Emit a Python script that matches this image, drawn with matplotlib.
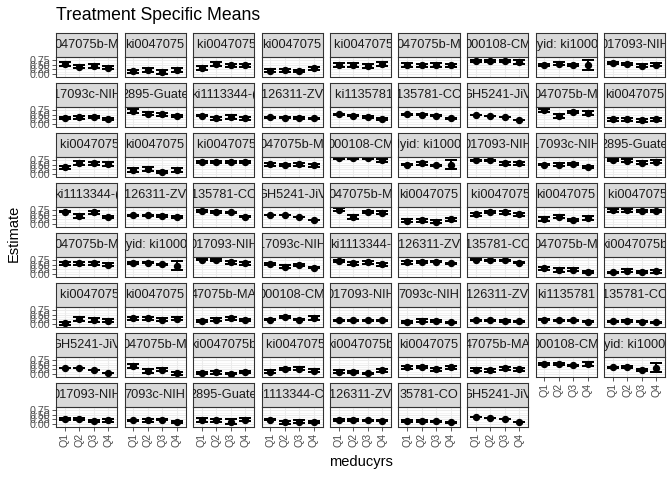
import numpy as np
import matplotlib
matplotlib.use('Agg')
import matplotlib.pyplot as plt

plt.rcParams['font.family'] = ['Liberation Sans', 'DejaVu Sans']

quarters = ['Q1', 'Q2', 'Q3', 'Q4']

# strip labels (as they show, clipped by the strip box)
labels = [
    "047075b-M", "ki0047075", ": ki0047075", "ki0047075", ": ki0047075", "047075b-M", "000108-CM", "lyid: ki1000", "017093-NIH",
    "17093c-NIH", "2895-Guate", "ki1113344-(", "126311-ZV", ": ki1135781", "135781-CO", "GH5241-JiV", "047075b-M", "ki0047075",
    ": ki0047075", "ki0047075", ": ki0047075", "047075b-M", "000108-CM", "lyid: ki1000", "017093-NIH", "17093c-NIH", "2895-Guate",
    "ki1113344-(", "126311-ZV", "135781-CO", "GH5241-JiV", "047075b-M", "ki0047075", ": ki0047075", "ki0047075", ": ki0047075",
    "047075b-M", "lyid: ki1000", "017093-NIH", "17093c-NIH", "ki1113344-", "126311-ZV", "135781-CO", "047075b-M", "ki0047075b",
    ": ki0047075", "ki0047075", "47075b-MA", "000108-CM", "017093-NIH", "7093c-NIH", "126311-ZV", "ki1135781", "135781-CO",
    "GH5241-JiV", "047075b-M", "ki0047075b", ": ki0047075", "ki0047075b", "ki0047075", "47075b-MA", "000108-CM", "yid: ki1000",
    "017093-NIH", "7093c-NIH", "2895-Guate", "i1113344-C", "126311-ZV", "35781-CO", "GH5241-JiV",
]

# estimate per panel, Q1..Q4
estimates = [
    [0.55, 0.40, 0.45, 0.35], [0.13, 0.22, 0.11, 0.22], [0.34, 0.54, 0.47, 0.47], [0.17, 0.19, 0.15, 0.30],
    [0.49, 0.50, 0.45, 0.54], [0.50, 0.47, 0.50, 0.47], [0.73, 0.73, 0.71, 0.66], [0.49, 0.56, 0.49, 0.50],
    [0.60, 0.56, 0.45, 0.50],
    [0.34, 0.36, 0.38, 0.26], [0.73, 0.56, 0.53, 0.45], [0.45, 0.30, 0.39, 0.30], [0.36, 0.34, 0.32, 0.30],
    [0.53, 0.45, 0.38, 0.26], [0.53, 0.51, 0.45, 0.32], [0.49, 0.45, 0.38, 0.23], [0.75, 0.45, 0.65, 0.62],
    [0.26, 0.26, 0.19, 0.26],
    [0.36, 0.62, 0.58, 0.54], [0.21, 0.28, 0.11, 0.22], [0.68, 0.68, 0.64, 0.66], [0.54, 0.49, 0.54, 0.47],
    [0.88, 0.88, 0.86, 0.75], [0.52, 0.58, 0.47, 0.52], [0.75, 0.75, 0.58, 0.58], [0.52, 0.52, 0.56, 0.38],
    [0.77, 0.73, 0.62, 0.68],
    [0.69, 0.43, 0.64, 0.38], [0.47, 0.47, 0.45, 0.39], [0.71, 0.66, 0.64, 0.41], [0.49, 0.47, 0.39, 0.21],
    [0.79, 0.38, 0.68, 0.62], [0.17, 0.21, 0.11, 0.26], [0.53, 0.66, 0.64, 0.54], [0.26, 0.41, 0.21, 0.34],
    [0.75, 0.75, 0.73, 0.73],
    [0.60, 0.58, 0.60, 0.51], [0.60, 0.62, 0.53, 0.45], [0.79, 0.77, 0.64, 0.58], [0.54, 0.41, 0.51, 0.34],
    [0.73, 0.60, 0.64, 0.54], [0.64, 0.68, 0.68, 0.58], [0.79, 0.75, 0.75, 0.62], [0.30, 0.21, 0.24, 0.11],
    [0.08, 0.17, 0.09, 0.15],
    [0.02, 0.28, 0.23, 0.17], [0.30, 0.30, 0.23, 0.28], [0.15, 0.23, 0.30, 0.21], [0.24, 0.36, 0.23, 0.34],
    [0.19, 0.19, 0.19, 0.19], [0.11, 0.17, 0.15, 0.09], [0.19, 0.19, 0.17, 0.15], [0.24, 0.21, 0.19, 0.13],
    [0.15, 0.15, 0.13, 0.09],
    [0.32, 0.30, 0.24, 0.06], [0.45, 0.15, 0.24, 0.02], [0.04, 0.09, 0.00, 0.09], [0.11, 0.28, 0.28, 0.17],
    [0.11, 0.09, 0.02, 0.19], [0.36, 0.38, 0.26, 0.36], [0.23, 0.21, 0.30, 0.26], [0.53, 0.54, 0.47, 0.56],
    [0.36, 0.38, 0.21, 0.34],
    [0.26, 0.26, 0.17, 0.19], [0.19, 0.21, 0.24, 0.11], [0.23, 0.21, 0.13, 0.24], [0.23, 0.08, 0.13, 0.08],
    [0.23, 0.21, 0.21, 0.17], [0.17, 0.17, 0.15, 0.09], [0.36, 0.34, 0.26, 0.08],
]

# half width of the 95% CI
errors = [
    [0.12, 0.10, 0.10, 0.10], [0.10, 0.10, 0.10, 0.10], [0.10, 0.10, 0.10, 0.10], [0.08, 0.08, 0.05, 0.10],
    [0.10, 0.10, 0.10, 0.10], [0.10, 0.10, 0.10, 0.10], [0.05, 0.05, 0.05, 0.12], [0.05, 0.08, 0.05, 0.27],
    [0.05, 0.05, 0.08, 0.08],
    [0.05, 0.10, 0.05, 0.05], [0.10, 0.08, 0.10, 0.07], [0.04, 0.10, 0.10, 0.10], [0.04, 0.04, 0.04, 0.04],
    [0.04, 0.04, 0.04, 0.04], [0.03, 0.03, 0.03, 0.03], [0.00, 0.00, 0.00, 0.00], [0.10, 0.10, 0.07, 0.10],
    [0.08, 0.08, 0.08, 0.08],
    [0.10, 0.10, 0.10, 0.10], [0.10, 0.10, 0.05, 0.12], [0.06, 0.06, 0.06, 0.06], [0.08, 0.08, 0.08, 0.08],
    [0.03, 0.03, 0.03, 0.09], [0.04, 0.06, 0.04, 0.25], [0.04, 0.04, 0.08, 0.08], [0.04, 0.08, 0.04, 0.04],
    [0.08, 0.08, 0.08, 0.08],
    [0.04, 0.10, 0.10, 0.08], [0.05, 0.05, 0.05, 0.05], [0.04, 0.04, 0.04, 0.04], [0.00, 0.00, 0.00, 0.00],
    [0.08, 0.10, 0.06, 0.08], [0.08, 0.08, 0.08, 0.08], [0.08, 0.08, 0.08, 0.08], [0.10, 0.06, 0.05, 0.12],
    [0.06, 0.06, 0.06, 0.06],
    [0.08, 0.08, 0.08, 0.08], [0.04, 0.04, 0.04, 0.25], [0.04, 0.06, 0.08, 0.08], [0.04, 0.10, 0.05, 0.04],
    [0.04, 0.08, 0.08, 0.08], [0.08, 0.05, 0.04, 0.04], [0.04, 0.04, 0.04, 0.04], [0.08, 0.09, 0.08, 0.06],
    [0.05, 0.08, 0.05, 0.08],
    [0.08, 0.10, 0.10, 0.08], [0.08, 0.08, 0.08, 0.08], [0.05, 0.08, 0.08, 0.06], [0.05, 0.06, 0.04, 0.12],
    [0.05, 0.05, 0.05, 0.05], [0.04, 0.08, 0.06, 0.04], [0.05, 0.04, 0.04, 0.03], [0.03, 0.03, 0.03, 0.03],
    [0.03, 0.04, 0.03, 0.03],
    [0.00, 0.00, 0.00, 0.00], [0.12, 0.10, 0.08, 0.08], [0.06, 0.08, 0.03, 0.06], [0.08, 0.07, 0.08, 0.08],
    [0.08, 0.06, 0.03, 0.10], [0.08, 0.08, 0.08, 0.08], [0.08, 0.08, 0.08, 0.08], [0.05, 0.05, 0.05, 0.12],
    [0.05, 0.05, 0.05, 0.25],
    [0.05, 0.05, 0.06, 0.08], [0.05, 0.08, 0.05, 0.04], [0.10, 0.08, 0.12, 0.06], [0.04, 0.08, 0.08, 0.06],
    [0.05, 0.04, 0.03, 0.03], [0.04, 0.05, 0.03, 0.03], [0.00, 0.00, 0.00, 0.00],
]

W, H = 672, 480
ncol = 9
x0, col_pitch, pw = 56, 68.5, 61
y0, row_pitch, sh, ph = 33, 50, 23.5, 20

fig = plt.figure(figsize=(7, 5), dpi=96)

def fig_rect(x, y, w, h):
    return [x / W, 1 - (y + h) / H, w / W, h / H]

n = len(labels)
xs = np.arange(1, 5)
for i in range(n):
    r, c = divmod(i, ncol)
    left = x0 + c * col_pitch
    top = y0 + r * row_pitch

    # strip
    sax = fig.add_axes(fig_rect(left, top, pw, sh))
    sax.set_facecolor('#D9D9D9')
    sax.set_xticks([])
    sax.set_yticks([])
    for sp in sax.spines.values():
        sp.set_color('#333333')
        sp.set_linewidth(0.8)
    sax.text(0.5, 0.5, labels[i], ha='center', va='center', fontsize=9.6,
             color='#1A1A1A', transform=sax.transAxes, clip_on=True)

    # panel
    ax = fig.add_axes(fig_rect(left, top + sh, pw, ph))
    ax.set_xlim(0.4, 4.6)
    ax.set_ylim(-0.15, 0.97)
    ax.set_yticks([0, 0.25, 0.5, 0.75])
    ax.set_yticks([0.125, 0.375, 0.625, 0.875], minor=True)
    ax.set_xticks(xs)
    ax.grid(True, which='major', color='#EBEBEB', linewidth=0.8)
    ax.grid(True, which='minor', axis='y', color='#EBEBEB', linewidth=0.4)
    ax.set_axisbelow(True)
    for sp in ax.spines.values():
        sp.set_color('#333333')
        sp.set_linewidth(0.8)
    ax.tick_params(which='minor', length=0)
    ax.tick_params(which='major', length=3, width=0.6, color='#333333',
                   labelsize=8, labelcolor='#4D4D4D', pad=1.5)

    if c == 0:
        ax.set_yticklabels(['0.00', '0.25', '0.50', '0.75'])
    else:
        ax.tick_params(axis='y', length=0, labelleft=False)

    if i + ncol >= n:
        ax.set_xticklabels(quarters, rotation=90)
    else:
        ax.tick_params(axis='x', length=0, labelbottom=False)

    ax.errorbar(xs, estimates[i], yerr=errors[i], fmt='o', color='black',
                markersize=4.5, elinewidth=1.5, capsize=4.5, capthick=1.5)

fig.text(56 / W, 1 - 15 / H, 'Treatment Specific Means', fontsize=13.2,
         ha='left', va='center', color='black')
fig.text(14 / W, 1 - 233 / H, 'Estimate', fontsize=11, rotation=90,
         ha='center', va='center')
fig.text(361 / W, 1 - 462 / H, 'meducyrs', fontsize=11,
         ha='center', va='center')

fig.savefig('out.png', dpi=96)
